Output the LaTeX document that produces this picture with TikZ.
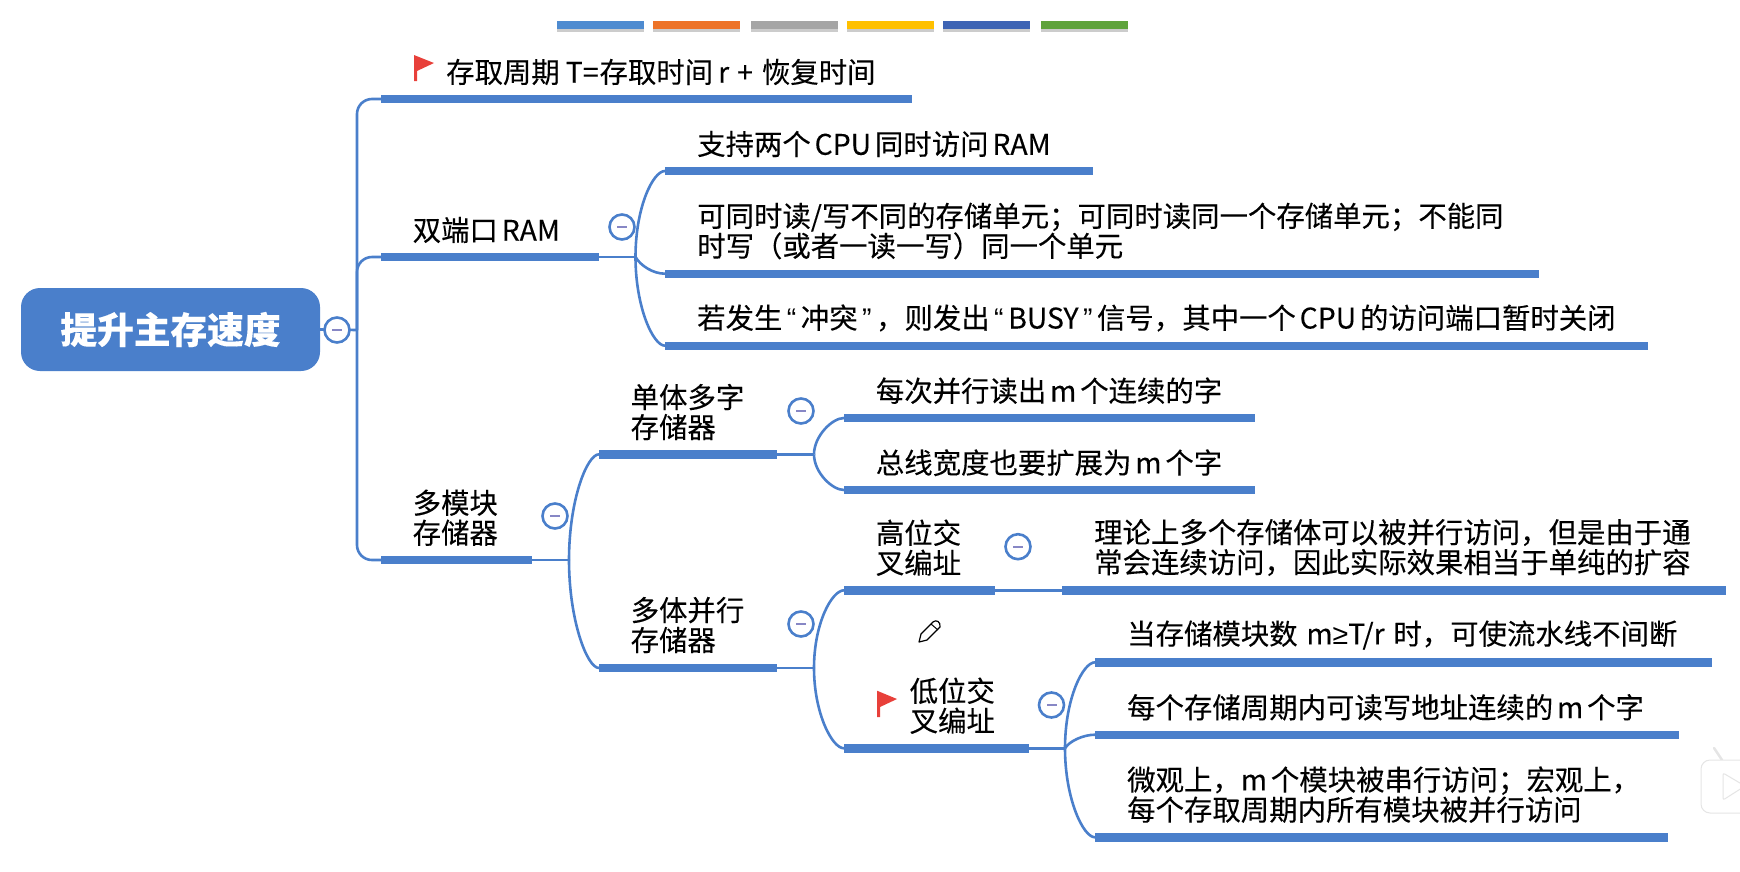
\documentclass[tikz,border=0pt]{standalone}
\usepackage{fontspec}
\setmainfont{Noto Sans CJK SC}[WordSpace=0.6,FakeBold=0.15]
\newfontfamily\latinfont{Liberation Sans}
\newcommand{\myoq}{\makebox[.65em][c]{\latinfont “}}
\newcommand{\mycq}{\makebox[.65em][c]{\latinfont ”}}
\usetikzlibrary{positioning}
\usetikzlibrary{shadows}
\definecolor{mapblue}{HTML}{4A7FCB}
\definecolor{flagred}{HTML}{E8403A}
\tikzset{
    mynode/.style = {rounded corners=19pt, fill=mapblue, text=white, minimum width=299pt, minimum height=83pt, inner sep=0pt, font=\fontsize{36.7}{40}\selectfont\bfseries},
    mytext/.style = {anchor=west, xshift=-1pt, inner sep=0pt, align=left, text=black, font=\fontsize{28.4}{30}\selectfont},
    mybar/.style = {anchor=west, fill=mapblue, minimum height=8.4pt, inner sep=0pt, outer sep=0pt},
    mybutton/.style = {circle, draw=mapblue, line width=2.6pt, fill=white, minimum size=25pt, inner sep=0pt,
      path picture={\fill[blue!35!gray!70] ([xshift=-5pt,yshift=-1.2pt]path picture bounding box.center) rectangle ([xshift=5pt,yshift=1.2pt]path picture bounding box.center);}},
    myswatch/.style = {anchor=west, minimum height=8.4pt, inner sep=0pt, minimum width=86.5pt, drop shadow={shadow xshift=0pt,shadow yshift=-3pt,opacity=0.4}},
    myflag/.style = {flagred, line width=0pt},
    edgen/.style = {-,line width=2.6pt,mapblue},
    edgeb/.style = {-,line width=2.6pt,mapblue,rounded corners=15pt}, % spine
    edgec/.style = {-,line width=2.6pt,mapblue,in=180,in distance=12pt,out distance=#1}, % branch
}

\begin{document}
\begin{tikzpicture}[x=1pt,y=-1pt]
  \useasboundingbox (0,0) rectangle (1740,871);
  % palette
  \node[myswatch, fill={rgb,255:red,78;green,139;blue,208}] (swa) at (557,25) {};
  \node[myswatch, fill={rgb,255:red,237;green,115;blue,40}] (swb) at (653,25) {};
  \node[myswatch, fill={rgb,255:red,165;green,165;blue,165}] (swc) at (751,25) {};
  \node[myswatch, fill={rgb,255:red,255;green,192;blue,0}] (swd) at (847,25) {};
  \node[myswatch, fill={rgb,255:red,62;green,100;blue,180}] (swe) at (943,25) {};
  \node[myswatch, fill={rgb,255:red,95;green,163;blue,60}] (swf) at (1041,25) {};
  % root
  \node[mynode] (root) at (170.5,329.5) {提升主存速度};
  \coordinate (huba) at (357,330);
  \node[mybar, minimum width=531pt] (bara) at (381,99) {};
  \node[mybar, minimum width=218pt] (barb) at (381,257) {};
  \node[mybar, minimum width=151pt] (barc) at (381,560) {};
  \draw[edgen] (root.east) -- (huba);
  \draw[edgeb] (huba) |- (bara.west);
  \draw[edgeb] (huba) |- (barb.west);
  \draw[edgeb] (huba) |- (barc.west);
  \node[mybutton] (btnroot) at (337,330) {};
  % first branch
  \node[mytext] (ta) at (447,72) {存取周期\hspace{6pt}T=\hspace{1pt}存取时间\hspace{5pt}r\hspace{8pt}+\hspace{9pt}恢复时间};
  \fill[myflag] (414,55) -- (434,63) -- (417,71) -- (417,81) -- (414,81) -- cycle;
  % dual port
  \node[mytext] (tb) at (413.5,230) {双端口 RAM};
  \node[mybutton] (btnb) at (622,227) {};
  \coordinate (hubb) at (635.5,257);
  \node[mybar, minimum width=427.5pt] (barba) at (665,171) {};
  \node[mybar, minimum width=874pt] (barbb) at (665,273.7) {};
  \node[mybar, minimum width=983pt] (barbc) at (665,345.7) {};
  \draw[edgen] (barb.east) -- (hubb);
  \draw[edgec=50pt] (hubb) to[out=90] (barba.west);
  \draw[edgec=10pt] (hubb) to[out=-60] (barbb.west);
  \draw[edgec=50pt] (hubb) to[out=-90] (barbc.west);
  \node[mytext] (tba) at (698,144) {支持两个 CPU 同时访问 RAM};
  \node[mytext] (tbb) at (698,231) {可同时读/写不同的存储单元；可同时读同一个存储单元；不能同\\时写（或者一读一写）同一个单元};
  \node[mytext] (tbc) at (698,318) {若发生\myoq 冲突\mycq ，则发出\myoq BUSY\mycq 信号，其中一个 CPU 的访问端口暂时关闭};
  % multi module
  \node[mytext] (tc) at (413.5,517.7) {多模块\\存储器};
  \node[mybutton] (btnc) at (555,516) {};
  \coordinate (hubc) at (569,560);
  \node[mybar, minimum width=178pt] (barca) at (599,454.3) {};
  \node[mybar, minimum width=178pt] (barcb) at (599,668) {};
  \draw[edgen] (barc.east) -- (hubc);
  \draw[edgec=60pt] (hubc) to[out=90] (barca.west);
  \draw[edgec=60pt] (hubc) to[out=-90] (barcb.west);
  \node[mytext] (tca) at (631.5,412) {单体多字\\存储器};
  \node[mybutton] (btnca) at (801,411) {};
  \coordinate (hubca) at (814,454.3);
  \node[mybar, minimum width=410.5pt] (barcaa) at (844,418) {};
  \node[mybar, minimum width=410.5pt] (barcab) at (844,490) {};
  \draw[edgen] (barca.east) -- (hubca);
  \draw[edgec=18pt] (hubca) to[out=90] (barcaa.west);
  \draw[edgec=18pt] (hubca) to[out=-90] (barcab.west);
  \node[mytext] (tcaa) at (876.7,390.7) {每次并行读出 m 个连续的字};
  \node[mytext] (tcab) at (876.7,462.7) {总线宽度也要扩展为 m 个字};
  \node[mytext] (tcb) at (631.5,625) {多体并行\\存储器};
  \node[mybutton] (btncb) at (801,624) {};
  \coordinate (hubcb) at (814,668);
  \node[mybar, minimum width=151pt] (barcba) at (844,590.3) {};
  \node[mybar, minimum width=185pt] (barcbb) at (844,748.3) {};
  \draw[edgen] (barcb.east) -- (hubcb);
  \draw[edgec=45pt] (hubcb) to[out=90] (barcba.west);
  \draw[edgec=45pt] (hubcb) to[out=-90] (barcbb.west);
  % high order
  \node[mytext] (tcba) at (876.7,547.7) {高位交\\叉编址};
  \node[mybutton] (btncba) at (1018,546.7) {};
  \node[mybar, minimum width=664.5pt] (barcbaa) at (1061.5,590.3) {};
  \draw[edgen] (barcba.east) -- (barcbaa.west);
  \node[mytext] (tcbaa) at (1095,547.5) {理论上多个存储体可以被并行访问，但是由于通\\常会连续访问，因此实际效果相当于单纯的扩容};
  % pencil
  \draw[black, line width=1.2pt, fill=white, line join=round] (919,642) -- (921,634) -- (933,622) .. controls (936,619) and (941,622) .. (940,627) -- (927,640) -- cycle;
  \draw[black, line width=1pt] (931,624) -- (938,630);
  % low order
  \node[mytext] (tcbb) at (910.5,705.7) {低位交\\叉编址};
  \fill[myflag] (877,690.7) -- (897,699) -- (880,707) -- (880,717) -- (877,717) -- cycle;
  \node[mybutton] (btncbb) at (1051.5,705) {};
  \coordinate (hubcbb) at (1065,748.3);
  \node[mybar, minimum width=617pt] (barx) at (1095,662.3) {};
  \node[mybar, minimum width=583.5pt] (bary) at (1095,734.7) {};
  \node[mybar, minimum width=572.5pt] (barz) at (1095,837.3) {};
  \draw[edgen] (barcbb.east) -- (hubcbb);
  \draw[edgec=50pt] (hubcbb) to[out=90] (barx.west);
  \draw[edgec=8pt] (hubcbb) to[out=60] (bary.west);
  \draw[edgec=50pt] (hubcbb) to[out=-90] (barz.west);
  \node[mytext] (tx) at (1128,635) {当存储模块数\hspace{5pt} m{\latinfont ≥}T/r\hspace{5pt} 时，可使流水线不间断};
  \node[mytext] (ty) at (1128,707.3) {每个存储周期内可读写地址连续的 m 个字};
  \node[mytext] (tz) at (1128,794.6) {微观上，m 个模块被串行访问；宏观上，\\每个存取周期内所有模块被并行访问};
  % player tab
  \draw[gray!20, line width=2.5pt, line cap=round] (1714,748) -- (1722,760);
  \draw[gray!20, line width=1pt, fill=white, rounded corners=9pt] (1745,760) -- (1701,760) -- (1701,813) -- (1745,813);
  \draw[gray!20, line width=1pt, fill=white, rounded corners=2pt] (1723,773) -- (1745,786) -- (1723,800) -- cycle;
\end{tikzpicture}
\end{document}
